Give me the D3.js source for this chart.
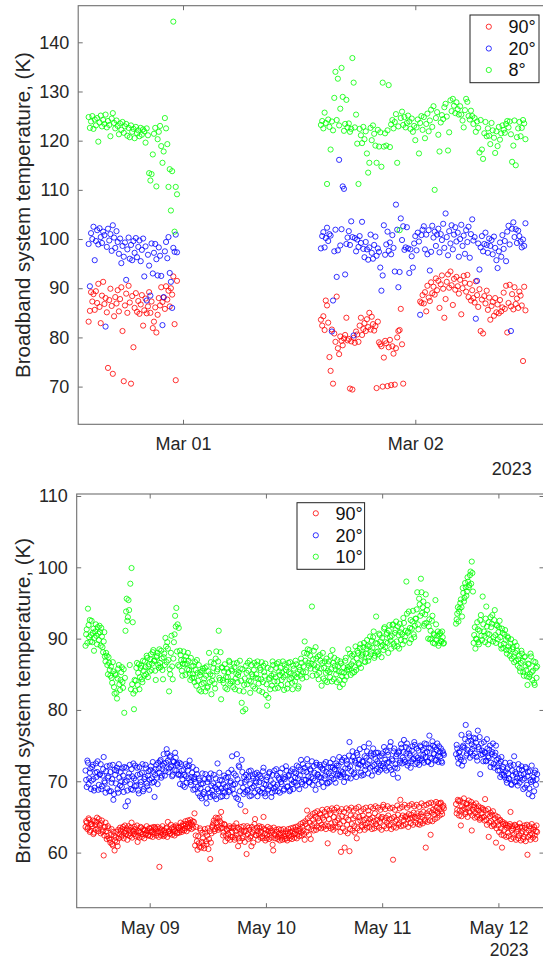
<!DOCTYPE html>
<html><head><meta charset="utf-8">
<script src="https://cdn.jsdelivr.net/npm/d3@7"></script>
<style>html,body{margin:0;padding:0;background:#fff}svg{display:block}text{font-family:"Liberation Sans",Arial,Helvetica,sans-serif}</style>
</head><body><svg id="c" width="543" height="960"></svg>
<script>
// ================= DATA =================
const topSeriesNames = ["90°", "20°", "8°"];
const botSeriesNames = ["90°", "20°", "10°"];
const topYTicks = [70, 80, 90, 100, 110, 120, 130, 140];
const botYTicks = [60, 70, 80, 90, 100, 110];
const topXTicks = ["2023-03-01", "2023-03-02"];
const topXLabels = ["Mar 01", "Mar 02"];
const botXTicks = ["2023-05-09", "2023-05-10", "2023-05-11", "2023-05-12"];
const botXLabels = ["May 09", "May 10", "May 11", "May 12"];
const yearLabel = "2023";
const yLabel = "Broadband system temperature, (K)";

// top panel: sample times, hours after 2023-02-28 00:00 UTC
const topBase = "2023-02-28T00:00:00Z";
const topHours = [
14.25,14.38,14.5,14.63,14.75,14.88,
15,15.13,15.25,15.38,15.5,15.63,15.75,15.88,16,16.13,16.25,16.38,16.5,16.63,16.75,16.88,
17,17.13,17.25,17.38,17.5,17.63,17.75,17.88,18,18.13,18.25,18.38,18.5,18.63,18.75,18.88,
19,19.13,19.25,19.38,19.5,19.63,19.75,19.88,20,20.13,20.25,20.38,20.5,20.63,20.75,20.88,
21,21.13,21.25,21.38,21.5,21.63,21.75,21.88,22,22.13,22.25,22.38,22.5,22.63,22.75,22.88,
23,23.13,23.25,23.38,
38.25,38.38,38.5,38.63,38.75,38.88,
39,39.13,39.25,39.38,39.5,39.63,39.75,39.88,40,40.13,40.25,40.38,40.5,40.63,40.75,40.88,
41,41.13,41.25,41.38,41.5,41.63,41.75,41.88,42,42.13,42.25,42.38,42.5,42.63,42.75,42.88,
43,43.13,43.25,43.38,43.5,43.63,43.75,43.88,44,44.13,44.25,44.38,44.5,44.63,44.75,44.88,
45,45.13,45.25,45.38,45.5,45.63,45.75,45.88,46,46.13,46.25,46.38,46.5,46.63,46.75,46.88,
47,47.13,47.25,47.38,47.5,47.63,47.75,47.88,48,48.13,48.25,48.38,48.5,48.63,48.75,48.88,
49,49.13,49.25,49.38,49.5,49.63,49.75,49.88,50,50.13,50.25,50.38,50.5,50.63,50.75,50.88,
51,51.13,51.25,51.38,51.5,51.63,51.75,51.88,52,52.13,52.25,52.38,52.5,52.63,52.75,52.88,
53,53.13,53.25,53.38,53.5,53.63,53.75,53.88,54,54.13,54.25,54.38,54.5,54.63,54.75,54.88,
55,55.13,55.25,55.38,55.5,55.63,55.75,55.88,56,56.13,56.25,56.38,56.5,56.63,56.75,56.88,
57,57.13,57.25,57.38,57.5,57.63,57.75,57.88,58,58.13,58.25,58.38,58.5,58.63,58.75,58.88,
59,59.13,59.25,59.38
];
const top90 = [
83.2,85.4,89.2,87.3,88.8,85.6,89.4,87.0,90.9,86.2,
82.9,88.5,91.3,86.8,88.0,85.1,73.8,87.6,89.9,86.4,
72.6,84.3,88.2,86.9,89.6,85.3,87.8,90.2,81.3,71.1,
86.5,88.9,85.0,90.5,87.1,70.6,88.4,78.0,86.0,89.0,
85.2,87.4,84.8,86.7,88.6,82.4,85.5,87.9,84.9,86.3,
89.2,85.0,87.3,81.9,83.2,86.1,81.0,84.6,88.0,86.5,
90.2,87.2,88.1,85.8,90.4,87.7,89.5,86.3,90.0,88.7,
92.4,82.7,71.3,91.5,
83.6,82.4,84.3,81.5,87.5,86.5,83.0,76.0,73.2,81.6,
70.6,80.8,79.1,88.3,77.8,76.6,80.2,79.3,78.4,79.8,
80.5,84.0,79.4,79.7,69.6,79.2,69.4,79.9,78.9,81.2,
80.6,79.1,82.4,84.0,80.5,81.7,82.9,81.3,83.7,82.1,
85.0,81.6,84.2,82.7,81.4,82.3,69.7,83.2,79.0,78.6,
78.2,70.0,75.9,79.3,78.8,70.1,78.0,79.5,70.3,78.2,
76.7,70.4,77.8,80.0,81.3,81.5,85.8,78.6,70.6,null,
null,null,null,null,null,null,null,null,null,null,
null,null,87.3,87.0,88.6,86.9,89.2,85.3,90.5,88.1,
87.4,91.2,89.0,90.3,88.7,92.0,89.6,91.5,86.0,90.8,
92.6,89.9,84.0,87.8,91.3,92.8,90.1,93.4,90.6,86.6,
91.9,89.7,92.3,90.4,88.9,91.7,84.7,90.0,92.5,91.1,
89.3,92.7,88.2,90.9,87.5,89.6,88.0,87.1,91.4,88.6,
86.2,89.8,81.3,87.7,80.8,88.4,86.9,89.5,85.6,88.1,
83.6,86.4,87.2,84.4,88.0,85.1,86.7,84.9,87.6,85.3,
86.1,89.1,85.8,90.5,81.0,87.0,90.7,86.3,88.8,85.7,
90.2,86.8,87.9,86.0,89.3,88.5,86.5,75.2,90.3,85.5
];
const top20 = [
99.0,90.4,101.2,100.0,102.5,95.7,99.6,101.8,98.9,102.2,
100.4,99.2,101.5,100.8,82.2,98.4,102.1,99.7,101.0,97.6,
102.8,100.3,98.2,101.6,99.4,97.0,100.1,95.1,98.6,96.4,
99.3,91.7,97.9,100.3,96.0,98.8,95.7,99.6,97.2,100.2,
96.3,98.4,99.7,95.5,97.8,100.1,92.4,98.5,87.5,96.8,
94.6,88.5,99.1,93.0,97.2,99.0,95.9,92.6,98.3,96.6,
92.5,82.5,88.2,97.5,99.4,96.1,100.4,93.1,91.3,86.0,
98.2,97.4,100.9,97.3,
98.1,100.6,101.4,98.3,100.2,102.3,99.6,101.0,100.7,81.2,
87.5,97.5,101.9,92.3,97.7,116.1,98.7,102.0,110.7,110.2,
92.8,99.0,100.3,101.6,98.8,103.6,100.4,80.4,100.2,97.5,
99.9,98.4,100.6,99.2,103.5,98.0,96.3,99.4,97.9,95.8,
98.3,100.9,97.2,96.0,98.8,100.5,96.6,98.1,97.4,94.2,
89.5,92.6,102.8,96.8,98.9,101.5,97.6,99.3,96.9,100.8,
98.2,93.4,107.0,101.9,90.2,93.3,104.2,99.8,102.6,97.8,
98.3,102.4,98.1,93.1,97.9,96.5,94.2,99.1,100.6,97.7,
101.3,99.5,84.6,100.8,101.9,102.6,97.9,100.9,96.9,101.8,
93.6,97.4,102.7,100.3,101.5,98.6,100.9,102.1,97.3,101.0,
99.8,103.1,98.2,105.2,100.4,96.7,101.6,99.1,102.8,97.9,
100.9,102.4,99.5,101.3,96.4,100.0,102.9,98.6,100.7,97.0,
101.8,99.4,102.5,96.2,101.0,104.0,99.7,100.4,83.8,91.5,
99.1,93.8,98.3,100.6,97.5,99.0,101.3,98.8,97.2,100.1,
98.6,99.8,96.9,100.5,98.2,95.7,94.1,97.5,99.3,96.4,
100.8,98.0,99.6,95.5,101.5,102.7,98.9,81.3,102.1,103.4,
100.4,102.0,99.2,101.7,100.6,99.5,98.3,99.9,98.6,103.2
];
const top8 = [
124.8,122.6,123.9,125.0,122.4,124.3,123.1,124.6,119.8,123.7,
125.1,122.9,124.2,123.4,125.3,122.7,124.0,123.2,120.9,124.5,
125.6,123.6,122.5,124.1,123.0,121.3,123.5,122.2,123.8,121.6,
122.9,123.4,121.0,122.6,120.7,123.1,121.8,122.4,120.5,122.8,
121.5,122.1,120.9,122.6,121.2,122.3,121.9,119.6,122.5,121.1,
113.4,111.9,113.2,117.2,121.4,122.6,110.7,120.3,121.8,123.0,
118.9,115.5,117.8,124.6,122.5,119.3,110.6,114.2,105.8,113.8,
144.2,101.5,110.6,109.1,
123.2,124.0,122.5,125.7,123.6,111.2,124.3,122.8,118.2,123.9,
122.1,128.7,134.0,124.2,132.6,123.1,126.5,134.8,128.9,122.0,
123.4,128.3,122.7,123.5,121.8,122.4,136.8,131.8,122.7,125.3,
119.4,111.2,122.4,121.1,119.5,122.8,120.3,121.9,117.4,113.5,
115.5,122.6,120.1,123.1,121.4,119.0,115.5,122.2,118.8,121.7,
114.7,131.8,118.8,121.5,119.0,122.1,131.3,118.7,123.3,124.2,
122.5,123.8,125.4,115.5,122.9,101.8,124.6,125.9,123.2,124.8,
122.7,123.6,125.1,123.9,122.4,124.5,121.8,123.0,120.1,122.7,
124.3,117.4,123.6,125.0,122.2,124.8,120.5,123.4,125.5,121.9,
124.1,126.3,122.8,127.0,110.0,124.6,125.8,121.2,117.8,123.7,
125.2,124.4,126.8,127.5,124.9,118.0,121.7,128.2,126.0,128.5,
127.1,125.6,127.8,126.4,125.3,127.0,125.3,124.1,122.7,126.2,
128.5,127.9,125.0,124.3,126.1,125.0,123.4,124.6,121.8,123.9,
122.6,117.6,124.2,118.2,116.3,121.5,123.8,120.9,122.5,121.0,
119.3,123.6,122.1,120.6,117.5,121.9,118.9,122.8,120.2,121.5,
123.1,122.2,121.6,123.4,124.0,122.7,123.9,121.3,115.7,119.0,
124.1,115.0,120.7,122.5,123.8,120.9,122.6,124.2,123.5,120.3
];

// bottom panel: sample times, hours after 2023-05-08 00:00 UTC
const botBase = "2023-05-08T00:00:00Z";
const botHours = [
10.75,
11,11.25,11.5,11.75,12,12.25,12.5,12.75,13,13.25,13.5,13.75,14,14.25,14.5,14.75,15,15.25,15.5,15.75,
16,16.25,16.5,16.75,17,17.25,17.5,17.75,18,18.25,18.5,18.75,19,19.25,19.5,19.75,20,20.25,20.5,20.75,
21,21.25,21.5,21.75,22,22.25,22.5,22.75,23,23.25,23.5,23.75,24,24.25,24.5,24.75,25,25.25,25.5,25.75,
26,26.25,26.5,26.75,27,27.25,27.5,27.75,28,28.25,28.5,28.75,29,29.25,29.5,29.75,30,30.25,30.5,30.75,
31,31.25,31.5,31.75,32,32.25,32.5,32.75,33,33.25,33.5,33.75,34,34.25,34.5,34.75,35,35.25,35.5,35.75,
36,36.25,36.5,36.75,37,37.25,37.5,37.75,38,38.25,38.5,38.75,39,39.25,39.5,39.75,40,40.25,40.5,40.75,
41,41.25,41.5,41.75,42,42.25,42.5,42.75,43,43.25,43.5,43.75,44,44.25,44.5,44.75,45,45.25,45.5,45.75,
46,46.25,46.5,46.75,47,47.25,47.5,47.75,48,48.25,48.5,48.75,49,49.25,49.5,49.75,50,50.25,50.5,50.75,
51,51.25,51.5,51.75,52,52.25,52.5,52.75,53,53.25,53.5,53.75,54,54.25,54.5,54.75,55,55.25,55.5,55.75,
56,56.25,56.5,56.75,57,57.25,57.5,57.75,58,58.25,58.5,58.75,59,59.25,59.5,59.75,60,60.25,60.5,60.75,
61,61.25,61.5,61.75,62,62.25,62.5,62.75,63,63.25,63.5,63.75,64,64.25,64.5,64.75,65,65.25,65.5,65.75,
66,66.25,66.5,66.75,67,67.25,67.5,67.75,68,68.25,68.5,68.75,69,69.25,69.5,69.75,70,70.25,70.5,70.75,
71,71.25,71.5,71.75,72,72.25,72.5,72.75,73,73.25,73.5,73.75,74,74.25,74.5,74.75,75,75.25,75.5,75.75,
76,76.25,76.5,76.75,77,77.25,77.5,77.75,78,78.25,78.5,78.75,79,79.25,79.5,79.75,80,80.25,80.5,80.75,
81,81.25,81.5,81.75,82,82.25,82.5,82.75,83,83.25,83.5,83.75,84,84.25,84.5,84.75,
87.25,87.5,87.75,
88,88.25,88.5,88.75,89,89.25,89.5,89.75,90,90.25,90.5,90.75,91,91.25,91.5,91.75,92,92.25,92.5,92.75,
93,93.25,93.5,93.75,94,94.25,94.5,94.75,95,95.25,95.5,95.75,96,96.25,96.5,96.75,97,97.25,97.5,97.75,
98,98.25,98.5,98.75,99,99.25,99.5,99.75,100,100.25,100.5,100.75,101,101.25,101.5,101.75,102,102.25,102.5,102.75,
103,103.25,103.5,103.75,
104,
// interleaved samples
10.88,
11.13,11.38,11.63,11.88,12.13,12.38,12.63,12.88,13.13,13.38,13.63,13.88,14.13,14.38,14.63,14.88,15.13,15.38,15.63,15.88,
16.13,16.38,16.63,16.88,17.13,17.38,17.63,17.88,18.13,18.38,18.63,18.88,19.13,19.38,19.63,19.88,20.13,20.38,20.63,20.88,
21.13,21.38,21.63,21.88,22.13,22.38,22.63,22.88,23.13,23.38,23.63,23.88,24.13,24.38,24.63,24.88,25.13,25.38,25.63,25.88,
26.13,26.38,26.63,26.88,27.13,27.38,27.63,27.88,28.13,28.38,28.63,28.88,29.13,29.38,29.63,29.88,30.13,30.38,30.63,30.88,
31.13,31.38,31.63,31.88,32.13,32.38,32.63,32.88,33.13,33.38,33.63,33.88,34.13,34.38,34.63,34.88,35.13,35.38,35.63,35.88,
36.13,36.38,36.63,36.88,37.13,37.38,37.63,37.88,38.13,38.38,38.63,38.88,39.13,39.38,39.63,39.88,40.13,40.38,40.63,40.88,
41.13,41.38,41.63,41.88,42.13,42.38,42.63,42.88,43.13,43.38,43.63,43.88,44.13,44.38,44.63,44.88,45.13,45.38,45.63,45.88,
46.13,46.38,46.63,46.88,47.13,47.38,47.63,47.88,48.13,48.38,48.63,48.88,49.13,49.38,49.63,49.88,50.13,50.38,50.63,50.88,
51.13,51.38,51.63,51.88,52.13,52.38,52.63,52.88,53.13,53.38,53.63,53.88,54.13,54.38,54.63,54.88,55.13,55.38,55.63,55.88,
56.13,56.38,56.63,56.88,57.13,57.38,57.63,57.88,58.13,58.38,58.63,58.88,59.13,59.38,59.63,59.88,60.13,60.38,60.63,60.88,
61.13,61.38,61.63,61.88,62.13,62.38,62.63,62.88,63.13,63.38,63.63,63.88,64.13,64.38,64.63,64.88,65.13,65.38,65.63,65.88,
66.13,66.38,66.63,66.88,67.13,67.38,67.63,67.88,68.13,68.38,68.63,68.88,69.13,69.38,69.63,69.88,70.13,70.38,70.63,70.88,
71.13,71.38,71.63,71.88,72.13,72.38,72.63,72.88,73.13,73.38,73.63,73.88,74.13,74.38,74.63,74.88,75.13,75.38,75.63,75.88,
76.13,76.38,76.63,76.88,77.13,77.38,77.63,77.88,78.13,78.38,78.63,78.88,79.13,79.38,79.63,79.88,80.13,80.38,80.63,80.88,
81.13,81.38,81.63,81.88,82.13,82.38,82.63,82.88,83.13,83.38,83.63,83.88,84.13,84.38,84.63,
87.38,87.63,87.88,
88.13,88.38,88.63,88.88,89.13,89.38,89.63,89.88,90.13,90.38,90.63,90.88,91.13,91.38,91.63,91.88,92.13,92.38,92.63,92.88,
93.13,93.38,93.63,93.88,94.13,94.38,94.63,94.88,95.13,95.38,95.63,95.88,96.13,96.38,96.63,96.88,97.13,97.38,97.63,97.88,
98.13,98.38,98.63,98.88,99.13,99.38,99.63,99.88,100.13,100.38,100.63,100.88,101.13,101.38,101.63,101.88,102.13,102.38,102.63,102.88,
103.13,103.38,103.63,103.88
];
const bot90 = [
63.6,
64.2,63.5,64.6,63.1,64.0,64.5,62.8,63.9,64.3,63.4,64.7,63.8,64.1,62.9,59.6,63.6,63.0,62.3,63.4,61.8,
62.5,61.2,62.9,60.3,62.1,61.5,63.2,62.6,63.1,62.4,63.6,62.8,63.0,63.4,62.5,63.2,62.7,64.2,63.1,62.6,
63.3,62.9,61.5,63.0,62.8,63.5,62.6,63.1,63.2,62.7,63.0,62.5,63.4,62.9,63.1,62.6,62.8,63.3,62.7,63.0,
58.0,62.9,63.2,62.6,63.1,62.8,63.5,64.3,63.0,62.7,63.4,62.9,63.3,63.0,63.6,62.8,63.5,63.1,63.7,63.2,
63.8,63.4,64.0,63.6,64.1,63.7,64.2,63.9,63.5,65.5,62.4,61.6,62.3,60.8,63.1,61.5,62.0,60.6,62.8,61.2,
63.4,61.9,59.1,62.7,63.8,64.5,63.3,64.2,64.8,63.6,64.4,65.7,63.5,62.8,63.9,62.4,63.1,62.6,63.7,62.2,
62.9,63.4,61.8,63.0,62.5,60.9,63.3,62.7,63.1,62.3,62.9,65.8,59.8,62.6,63.5,62.1,60.9,62.8,63.2,64.7,
62.4,63.0,62.6,63.4,62.9,62.3,65.0,62.7,63.2,62.5,63.0,62.4,62.8,63.1,60.3,62.6,62.4,62.9,62.2,62.7,
62.5,62.1,62.8,62.3,62.6,62.0,62.7,62.4,62.9,62.3,63.0,62.6,62.7,63.2,62.5,63.0,63.3,62.8,63.6,63.1,
61.8,64.0,65.9,63.5,64.2,61.9,63.8,64.6,64.1,65.0,63.7,64.8,64.4,65.3,63.9,64.9,64.6,63.8,65.2,61.3,
64.7,65.4,64.1,63.6,65.0,64.3,65.6,64.5,64.8,64.0,60.1,65.1,64.4,60.7,64.9,63.9,64.6,60.2,65.2,64.0,
64.8,63.7,65.1,62.0,64.3,65.0,64.5,63.8,65.2,64.6,63.9,64.8,64.1,65.3,64.7,64.2,64.9,64.4,65.5,64.0,
64.6,65.1,64.3,64.8,65.0,66.7,64.5,64.9,64.2,65.2,64.7,63.9,64.8,59.0,65.0,64.4,64.6,65.3,64.1,67.4,
64.9,65.2,64.5,65.0,65.1,64.7,65.4,64.8,65.3,64.9,65.6,65.0,64.8,65.5,65.1,63.9,65.4,65.0,65.7,64.6,
60.7,65.5,65.2,65.8,62.5,65.6,66.0,65.3,65.9,66.3,65.6,66.1,66.9,65.8,66.4,66.2,
66.8,66.0,67.2,
65.9,63.8,66.5,67.0,66.2,65.7,66.9,66.3,65.8,66.6,63.1,66.0,66.4,65.6,66.1,65.3,65.9,64.8,65.5,66.2,
65.0,67.5,64.6,65.4,62.2,65.1,64.4,65.3,64.0,64.8,61.4,64.3,63.8,64.5,63.4,60.7,64.0,63.2,63.9,63.5,
62.8,63.7,65.7,63.1,63.4,62.6,63.8,62.9,63.3,62.4,63.6,62.7,63.0,62.2,63.5,62.8,59.7,63.1,62.5,63.4,
62.6,63.2,62.4,63.0,
62.9,
// interleaved samples
64.4,
63.3,64.8,62.9,64.0,63.7,62.6,64.4,63.2,64.9,63.0,63.9,62.7,64.5,63.1,62.4,64.2,61.9,63.7,62.0,61.4,
63.3,61.0,62.4,61.7,62.9,60.9,62.0,63.5,62.2,63.3,62.0,63.8,62.6,61.8,63.7,62.3,63.5,62.1,63.0,63.6,
62.3,63.8,62.4,62.1,63.6,62.2,63.3,62.0,62.5,63.7,62.4,63.4,62.3,63.5,62.2,63.6,63.5,62.4,63.6,62.2,
63.4,62.4,63.7,62.3,62.5,63.4,62.2,63.0,62.6,63.9,62.5,63.6,62.4,63.8,62.7,63.5,62.8,64.2,62.9,64.0,
63.1,64.4,63.0,64.5,63.4,64.6,63.3,64.4,64.3,61.0,63.6,60.4,61.3,63.4,60.7,62.8,61.0,63.3,61.6,62.4,
60.5,63.0,61.4,63.6,64.1,63.0,64.9,63.5,63.2,64.9,63.4,64.1,62.4,64.0,61.6,63.3,62.0,63.4,61.8,63.5,
62.2,63.7,62.1,64.1,63.5,62.0,61.6,63.6,62.0,63.7,61.5,63.0,63.7,61.9,63.2,62.3,63.6,61.4,64.0,62.5,
63.5,61.8,63.7,62.1,63.6,62.0,63.3,61.7,62.0,63.6,61.9,63.4,62.1,61.1,63.5,62.0,63.2,61.9,63.3,61.7,
63.2,61.8,63.3,61.9,63.0,61.7,63.3,62.0,63.4,61.9,63.5,62.1,63.6,62.0,63.7,62.3,64.0,62.4,64.2,62.6,
64.4,62.9,64.8,62.5,65.1,63.3,65.4,63.1,65.6,63.2,65.8,63.5,65.5,63.4,66.0,63.6,65.7,63.3,66.1,63.7,
65.9,63.4,66.2,63.2,66.0,63.5,66.3,63.6,65.8,62.9,66.1,63.4,65.7,63.0,66.2,62.7,66.0,63.3,66.3,63.1,
65.9,62.8,66.2,63.4,66.4,63.1,65.8,63.6,66.1,63.2,66.3,63.5,65.9,63.6,66.4,63.3,66.2,63.4,66.5,63.7,
66.3,63.5,66.0,63.2,66.4,63.7,66.1,63.4,66.5,63.8,66.2,63.3,66.3,63.6,66.0,63.5,66.6,63.9,66.2,63.7,
66.4,63.8,66.7,64.0,66.3,63.6,66.6,64.1,66.8,63.9,66.5,64.2,66.7,64.0,66.4,64.3,66.9,64.1,66.6,64.4,
66.7,64.3,66.9,64.5,67.0,64.4,66.8,64.7,67.1,64.9,66.9,65.2,67.0,65.4,66.6,
65.5,67.4,65.2,
67.3,65.1,66.0,67.6,65.4,66.8,65.0,67.3,65.6,67.1,65.2,66.7,64.9,66.9,65.0,66.5,64.6,66.3,64.9,66.0,
64.5,65.9,63.9,66.1,64.2,65.6,63.7,65.8,63.8,65.2,63.4,65.0,62.9,64.6,62.5,64.3,62.4,64.1,62.2,63.8,
62.3,64.0,61.9,63.7,62.1,63.9,61.8,63.6,62.0,64.1,61.7,63.5,61.9,63.8,61.6,63.9,62.2,63.7,61.8,64.0,
62.1,63.6,61.9,63.8
];
const bot20 = [
71.5,
69.2,72.6,70.4,71.8,70.1,72.3,68.7,71.2,70.6,72.8,69.5,71.0,68.9,70.8,73.4,69.8,71.4,69.0,70.7,72.2,
68.6,70.3,67.4,71.6,69.7,71.9,68.4,70.5,71.3,69.2,70.8,72.0,66.5,70.1,67.2,71.1,69.6,71.7,68.8,70.4,
72.2,69.4,70.9,68.3,71.0,69.9,72.4,68.9,70.6,71.8,69.3,71.4,70.2,72.1,69.8,71.3,67.8,71.7,70.5,72.6,
71.2,73.0,70.8,72.2,72.5,71.4,74.5,72.9,71.8,73.6,72.2,70.9,72.7,74.0,71.5,72.3,71.0,69.6,72.4,70.3,
71.6,69.2,70.7,72.1,70.4,72.9,69.5,71.2,68.8,70.6,69.9,71.0,68.3,70.1,69.0,67.6,69.7,68.5,71.0,66.9,
68.9,70.3,67.8,69.4,68.1,70.9,69.2,67.5,72.5,68.6,70.2,69.0,67.9,69.6,68.4,70.5,69.3,71.2,68.7,70.0,
73.5,69.5,68.2,70.8,73.8,67.5,72.0,66.7,73.0,69.1,70.6,68.5,70.2,68.8,71.4,69.6,68.0,70.7,69.3,71.0,
69.8,67.9,70.9,68.6,70.4,69.0,71.9,68.3,69.5,70.6,68.9,71.3,70.1,68.4,69.7,71.5,69.2,70.8,68.6,70.3,
71.2,69.6,70.4,68.9,70.6,71.5,69.3,70.9,68.8,70.2,71.7,69.9,70.5,71.1,69.4,72.0,70.8,73.0,69.6,71.4,
71.9,70.2,73.1,70.7,69.8,71.5,72.8,70.4,71.2,68.8,72.3,70.9,70.6,72.0,69.9,71.6,72.4,70.8,71.3,69.7,
71.1,72.6,70.5,71.9,70.3,71.7,72.5,70.8,72.2,70.9,71.4,73.0,71.0,73.3,70.6,72.4,71.8,75.5,70.4,72.9,
73.4,71.2,72.6,74.0,71.9,73.0,72.3,70.8,72.7,74.8,71.6,73.3,72.4,75.3,71.9,73.6,72.1,73.8,71.5,74.0,
72.8,71.3,73.5,72.2,73.9,72.5,71.8,74.3,72.6,73.7,71.9,75.5,73.1,71.0,74.6,72.4,73.8,70.5,74.2,72.9,
74.7,73.3,75.8,72.7,73.9,72.2,74.5,73.6,72.8,74.9,73.2,75.1,73.5,72.6,74.3,73.0,74.8,72.9,73.7,75.3,
73.4,74.1,72.7,76.4,74.6,73.2,75.0,73.8,72.9,74.4,73.6,74.9,73.5,72.8,74.2,73.7,
73.8,74.6,72.5,
74.2,73.0,72.2,75.0,74.7,77.9,73.9,75.6,76.3,74.1,75.2,73.6,74.9,76.0,73.4,77.1,74.5,71.0,75.3,73.8,
75.5,74.0,72.9,74.6,73.3,75.0,72.6,74.1,72.4,73.6,75.0,72.1,73.2,71.5,72.8,70.9,72.0,70.6,71.4,69.8,
71.1,70.3,72.2,69.5,70.8,73.5,71.3,70.0,69.4,71.7,70.5,72.1,70.2,71.0,69.1,71.8,70.7,68.2,71.4,69.9,
67.9,70.6,71.2,69.5,
71.0,
// interleaved samples
70.2,
72.9,69.6,71.2,68.9,72.0,70.3,69.1,72.5,71.3,68.8,70.9,72.4,69.3,71.7,70.0,68.4,72.1,70.5,68.6,71.3,
69.8,72.3,68.2,70.9,71.5,68.9,72.4,69.4,70.0,71.8,68.5,69.9,71.9,68.7,70.6,72.3,68.9,70.7,72.5,69.3,
70.1,71.9,68.7,72.0,69.5,71.2,68.6,70.3,72.3,69.7,70.8,68.8,71.6,70.4,72.7,69.9,70.9,72.3,69.6,71.8,
72.8,70.5,71.7,73.8,70.8,72.6,73.9,71.3,73.4,72.0,70.7,72.8,71.6,73.3,72.5,70.9,72.6,70.8,71.5,69.4,
70.9,72.4,69.8,71.5,72.2,69.9,70.6,72.0,70.3,68.9,71.6,69.2,70.4,67.9,69.6,71.1,68.2,70.3,67.7,69.9,
70.5,68.4,71.1,68.7,69.7,67.9,70.4,68.9,69.5,71.2,67.8,70.1,68.6,70.8,69.2,67.9,70.6,68.5,69.8,71.6,
68.9,71.1,69.6,67.7,70.3,72.2,68.6,69.8,71.3,68.2,69.9,70.9,68.7,70.6,67.9,71.5,69.1,70.4,68.4,70.0,
71.2,68.8,69.9,70.7,68.4,71.4,69.6,67.9,70.2,68.7,71.1,69.3,67.8,70.9,69.0,68.6,71.7,69.5,70.5,68.4,
69.9,71.8,68.7,70.3,72.1,69.2,70.7,68.6,71.4,69.6,68.9,71.3,69.8,72.2,70.4,68.9,71.6,69.9,72.4,70.2,
69.4,71.3,72.2,69.9,71.7,70.6,69.5,72.1,70.1,72.6,71.0,69.6,72.3,70.5,71.8,69.2,70.4,72.7,69.8,71.9,
69.9,72.0,70.8,73.1,71.6,69.8,72.2,71.0,73.4,70.6,72.7,71.3,69.9,71.8,72.9,70.5,73.6,72.1,71.4,74.2,
71.0,72.9,70.6,73.7,72.4,74.5,71.2,72.8,70.9,73.5,72.1,74.2,71.1,72.9,73.9,70.8,74.6,72.3,73.1,71.7,
74.0,72.5,71.6,73.6,72.1,74.8,73.0,71.5,74.1,72.7,74.9,71.6,72.9,74.2,71.9,73.5,71.8,74.0,72.6,75.2,
72.5,74.1,73.0,74.8,75.3,72.6,73.9,71.9,74.3,73.1,75.5,72.4,74.6,73.3,72.3,75.0,73.2,74.4,72.6,74.0,
75.2,72.8,74.7,73.3,72.4,75.6,73.9,74.8,73.0,75.3,72.7,74.1,74.6,72.6,73.9,
75.1,73.3,74.0,
73.4,76.5,74.8,72.8,75.9,73.6,74.4,76.7,73.3,75.7,74.5,76.1,73.9,75.4,72.9,74.8,76.2,73.7,74.3,72.8,
74.1,72.8,75.9,73.5,74.4,72.0,73.8,75.3,71.9,74.0,73.0,71.5,72.5,70.6,73.4,71.7,70.9,72.6,70.2,71.8,
70.4,72.6,69.6,71.5,72.3,69.9,71.0,70.5,72.4,69.8,70.9,71.6,68.9,70.4,72.0,69.5,71.3,69.0,70.2,72.2,
70.1,68.6,71.5,70.3
];
const bot10 = [
89.0,
91.3,94.2,90.2,89.6,92.5,90.8,88.3,91.0,90.4,91.6,89.8,90.9,91.5,88.8,89.6,87.5,88.0,86.3,87.4,85.6,
86.1,83.8,85.4,82.3,84.9,81.6,85.8,83.6,84.2,86.0,83.1,79.6,91.1,95.6,93.0,94.0,97.7,99.9,92.3,80.1,
82.7,85.9,83.5,86.4,84.6,86.2,83.9,85.5,86.8,85.0,87.3,86.1,85.4,87.8,86.5,88.4,86.9,84.2,87.6,86.3,
88.5,86.0,87.2,84.3,87.9,90.1,86.7,88.6,82.6,85.0,90.4,84.3,89.5,93.2,94.3,92.0,91.5,88.3,87.0,84.8,
88.2,86.4,87.5,85.7,86.9,85.1,87.3,84.5,86.2,83.9,85.6,87.0,84.1,82.8,85.3,83.6,85.8,84.4,82.6,86.1,
83.3,88.0,85.0,82.2,84.8,86.5,83.0,88.2,85.7,91.1,84.2,81.5,85.9,83.8,86.4,84.6,82.9,85.3,86.7,84.0,
85.5,83.2,86.0,84.4,86.6,84.9,82.7,85.8,81.0,79.8,83.5,80.1,85.2,86.6,84.1,82.4,86.3,84.7,85.6,83.0,
85.0,86.8,83.7,85.9,84.3,82.5,86.2,84.8,82.1,80.6,81.7,84.5,85.7,83.4,86.3,84.0,84.6,86.5,83.1,85.4,
85.9,84.2,86.8,82.8,84.9,86.0,83.6,85.3,86.7,84.5,82.9,85.8,84.0,86.4,85.1,83.3,85.6,87.2,84.4,86.1,
89.6,85.3,87.9,86.6,88.4,85.8,94.5,87.1,86.3,88.8,84.9,87.5,85.2,86.9,83.4,88.0,85.9,84.1,87.2,85.5,
86.8,84.6,85.7,88.4,84.3,86.2,85.0,87.0,85.4,83.2,86.5,84.7,86.0,84.2,87.3,85.6,88.5,86.1,84.9,87.6,
86.8,85.3,88.9,87.2,88.0,86.4,89.2,87.5,87.9,89.4,86.7,88.6,89.0,87.4,90.3,88.2,88.7,91.0,87.6,93.1,
89.3,87.8,90.5,88.9,90.1,88.4,91.6,89.5,90.8,88.0,91.9,89.7,90.4,92.0,88.9,91.2,89.6,91.7,88.6,90.9,
91.4,89.2,92.2,90.3,98.0,90.8,93.8,91.5,89.9,92.4,90.6,91.8,92.8,96.5,91.3,94.8,98.4,93.6,95.2,92.1,
96.2,94.0,90.0,92.7,91.1,92.5,89.4,90.5,95.4,89.8,91.0,89.4,90.8,89.6,90.2,89.4,
92.1,93.5,92.4,
94.2,95.5,93.1,96.4,95.7,97.2,96.6,98.0,97.5,99.4,100.8,96.6,90.5,88.6,89.9,91.3,89.2,92.6,90.4,95.9,
91.0,89.5,94.5,90.7,92.3,89.8,91.6,93.3,90.2,94.0,89.4,91.8,90.9,92.5,89.1,91.4,88.7,90.6,89.8,87.9,
90.1,88.4,89.3,87.2,88.8,86.7,88.0,89.0,86.2,87.6,85.4,88.3,86.9,84.8,87.5,85.6,83.5,86.4,85.0,87.5,
84.2,86.8,83.5,85.9,
86.1,
// interleaved samples
90.6,
89.4,91.9,92.6,90.5,89.5,91.4,90.1,92.0,89.2,90.7,91.8,89.0,90.3,88.1,90.9,86.8,87.6,85.0,86.6,84.8,
84.5,86.7,83.2,85.1,82.4,84.4,86.3,82.8,85.3,83.9,85.7,84.5,93.8,92.5,95.4,86.3,82.9,83.6,82.3,84.2,
84.1,86.6,85.2,82.9,85.9,84.3,86.9,84.8,86.0,87.6,84.6,86.4,87.1,85.6,88.1,86.9,85.5,87.4,88.0,85.9,
86.6,88.3,85.6,87.4,86.3,88.9,89.5,87.0,85.7,88.0,86.1,87.2,90.6,91.7,88.2,86.3,86.1,87.7,85.5,86.5,
87.0,84.9,86.5,88.0,85.6,84.2,86.1,85.0,84.5,86.7,83.4,85.2,86.3,84.9,82.6,85.5,83.8,85.9,84.8,83.1,
85.4,83.9,86.7,84.1,85.9,83.7,87.2,85.4,86.8,84.5,88.1,86.0,84.2,85.4,83.1,85.8,84.6,86.9,83.7,85.7,
84.0,86.5,82.9,85.1,83.9,85.3,86.9,84.1,85.7,82.6,84.4,86.2,83.6,85.5,86.9,84.0,85.0,83.3,86.6,84.5,
86.3,84.4,82.7,85.6,86.7,83.9,85.3,86.5,83.6,85.9,84.3,82.9,84.8,86.8,85.0,83.0,85.9,84.0,86.7,84.9,
83.5,85.2,84.6,86.4,85.6,83.0,86.6,84.3,85.1,83.8,86.2,84.9,86.9,84.6,83.0,86.0,84.8,86.6,85.3,88.0,
86.9,84.6,88.5,86.2,87.6,86.5,84.8,88.3,85.7,87.2,86.0,84.3,87.7,85.8,86.6,84.4,86.8,85.2,83.9,86.4,
85.3,87.6,84.0,86.6,87.3,85.7,83.9,86.1,84.2,86.8,85.3,83.6,85.2,86.9,84.7,86.0,85.7,87.9,86.4,85.2,
87.8,86.0,85.6,88.3,86.6,88.7,85.9,87.7,88.8,86.8,87.9,89.8,86.9,88.9,87.8,89.7,90.2,87.3,89.4,88.1,
88.2,90.7,89.6,87.4,89.1,91.4,88.8,90.6,89.4,91.1,90.2,88.6,91.9,89.3,90.8,92.4,88.9,90.5,92.1,89.8,
90.6,92.9,89.7,91.1,93.5,91.0,89.4,92.6,91.4,93.9,90.2,92.8,94.1,92.0,95.6,93.2,96.5,94.4,91.8,93.4,
92.2,94.7,91.7,89.9,90.0,93.2,90.7,89.3,92.0,90.4,89.0,90.6,89.7,91.0,89.3,
92.7,94.4,93.8,
95.0,94.4,97.1,95.2,97.8,96.0,98.6,97.2,98.9,97.7,99.2,89.4,91.6,90.0,92.3,89.5,91.1,93.3,89.8,92.0,
90.4,92.8,91.7,89.2,90.6,93.0,92.1,89.6,92.6,90.5,91.9,89.9,91.6,90.2,88.6,90.8,89.3,91.2,88.4,90.3,
88.9,87.6,89.9,88.5,87.5,89.5,86.9,88.3,87.1,85.9,86.6,87.9,85.3,87.4,86.1,84.7,86.5,84.6,87.9,85.3,
85.5,83.8,86.7,84.5
];

// ================= DRAWING =================
const colors = ["#ff0000", "#0000ff", "#00ff00"];
const svg = d3.select("#c");
svg.append("rect").attr("width", 543).attr("height", 960).attr("fill", "#fff");
const AX = "#262626", FRAME = "#6f6f6f";

function panel(o) {
  const g = svg.append("g");
  const base = new Date(o.base).getTime();
  const tickDates = o.xTicks.map(s => new Date(s + "T00:00:00Z"));
  const x = d3.scaleUtc().domain([tickDates[0], tickDates[tickDates.length - 1]]).range(o.xPx);
  const y = d3.scaleLinear().domain(o.yRef).range(o.yPx);

  o.series.forEach((vals, k) => {
    const pts = [];
    const n = Math.min(vals.length, o.hours.length);
    for (let i = 0; i < n; i++) if (vals[i] != null) pts.push({ t: new Date(base + o.hours[i] * 3600e3), v: vals[i] });
    g.append("g").selectAll("circle").data(pts).join("circle")
      .attr("cx", d => x(d.t)).attr("cy", d => y(d.v)).attr("r", 2.6)
      .attr("fill", "none").attr("stroke", colors[k])
      .attr("stroke-opacity", 0.8).attr("stroke-width", 1);
  });

  const tk = 4.5;
  const style = sel => {
    sel.select(".domain").remove();
    sel.selectAll(".tick line").attr("stroke", FRAME).attr("stroke-width", 1);
    sel.selectAll(".tick text").attr("fill", AX).attr("font-size", 18)
      .attr("font-family", '"Liberation Sans", Arial, Helvetica, sans-serif');
  };
  g.append("g").attr("transform", `translate(0,${o.b})`)
    .call(d3.axisBottom(x).tickValues(tickDates).tickFormat((d, i) => o.xLabels[i]).tickSize(-tk).tickPadding(13.3))
    .call(style);
  g.append("g").attr("transform", `translate(0,${o.t})`)
    .call(d3.axisTop(x).tickValues(tickDates).tickFormat(() => "").tickSize(-tk))
    .call(style);
  g.append("g").attr("transform", `translate(${o.l},0)`)
    .call(d3.axisLeft(y).tickValues(o.yTicks).tickFormat(d3.format("d")).tickSize(-tk).tickPadding(9))
    .call(style);
  g.append("g").attr("transform", `translate(${o.r},0)`)
    .call(d3.axisRight(y).tickValues(o.yTicks).tickFormat(() => "").tickSize(-tk))
    .call(style);
  g.append("rect").attr("x", o.l).attr("y", o.t).attr("width", o.r - o.l).attr("height", o.b - o.t)
    .attr("fill", "none").attr("stroke", FRAME).attr("stroke-width", 1.1);

  g.append("text").attr("x", o.yearX).attr("y", o.yearY).attr("text-anchor", "end")
    .attr("font-size", o.yearSize).attr("fill", AX).text(yearLabel);
  g.append("text").attr("transform", `translate(30.4,${(o.t + o.b) / 2}) rotate(-90)`)
    .attr("text-anchor", "middle").attr("font-size", 20.5).attr("fill", AX).text(yLabel);

  const L = o.legend;
  g.append("rect").attr("x", L.x).attr("y", L.y).attr("width", L.w).attr("height", L.h)
    .attr("fill", "#fff").attr("stroke", "#222").attr("stroke-width", 1);
  o.names.forEach((nm, k) => {
    const yy = L.rows[k];
    g.append("circle").attr("cx", L.x + 18.8).attr("cy", yy).attr("r", 2.6)
      .attr("fill", "none").attr("stroke", colors[k]).attr("stroke-opacity", 0.8).attr("stroke-width", 1);
    g.append("text").attr("x", L.x + 38.5).attr("y", yy).attr("dy", "0.36em")
      .attr("font-size", 18).attr("fill", "#111").text(nm);
  });
}

panel({
  l: 78.2, t: 5.7, r: 548, b: 424.3,
  base: topBase, hours: topHours, series: [top90, top20, top8], names: topSeriesNames,
  xTicks: topXTicks, xLabels: topXLabels, xPx: [183.0, 415.3],
  yTicks: topYTicks, yRef: [70, 140], yPx: [386.6, 42.3],
  yearX: 531.7, yearY: 475, yearSize: 18,
  legend: { x: 470, y: 15, w: 69, h: 67.7, rows: [26.7, 48.5, 70.0] }
});
panel({
  l: 76.7, t: 494, r: 544, b: 907.7,
  base: botBase, hours: botHours, series: [bot90, bot20, bot10], names: botSeriesNames,
  xTicks: botXTicks, xLabels: botXLabels, xPx: [149.7, 498.4],
  yTicks: botYTicks, yRef: [60, 100], yPx: [852.6, 567.3],
  yearX: 528.6, yearY: 955.6, yearSize: 17.5,
  legend: { x: 297, y: 502.7, w: 67.6, h: 66.6, rows: [513.3, 535.3, 556.7] }
});
</script>
</body></html>
